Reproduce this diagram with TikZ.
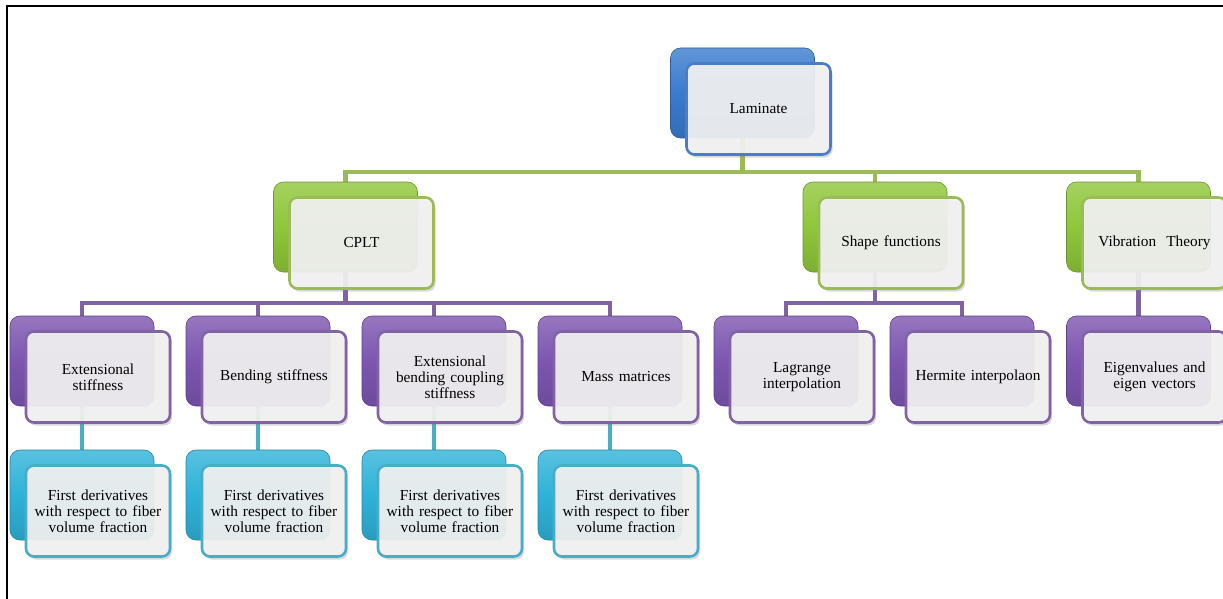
\documentclass[tikz,border=0pt]{standalone}
\usepackage{fontspec}
\setmainfont{Liberation Serif}
\usetikzlibrary{shadows,backgrounds}
\definecolor{cblue}{HTML}{4A7EC4}
\definecolor{cgreen}{HTML}{9BBB59}
\definecolor{cgreenb}{HTML}{8FC63A}
\definecolor{cpurple}{HTML}{8064A2}
\definecolor{cpurpleb}{HTML}{7D55B0}
\definecolor{ccyan}{HTML}{4BACC6}
\definecolor{ccyanb}{HTML}{2FB2D8}
\definecolor{cblueb}{HTML}{3A7BCD}
\definecolor{boxfill}{HTML}{F2F2F2}
\tikzset{
  backbox/.style={rectangle, rounded corners=10pt, minimum width=144pt, minimum height=90pt,
    inner sep=0pt, draw=#1!75!black, line width=0.6pt,
    top color=#1!80!white, bottom color=#1!88!black, middle color=#1},
  frontbox/.style={rectangle, rounded corners=8pt, minimum width=144pt, minimum height=91pt,
    inner sep=2pt, draw=#1, line width=2.6pt, fill=boxfill, fill opacity=0.92, text opacity=1,
    align=center, text width=134pt, font=\fontsize{15.3}{16.2}\selectfont,
    drop shadow={shadow xshift=2pt, shadow yshift=-3pt, opacity=0.3}},
  conn/.style={line width=4.8pt, draw=#1},
}
\newcommand\twobox[7]{%
  \node[backbox=#4] (#1B) at (#2,#3) {};
  \node[frontbox=#5] (#1) at (#2+16,#3+16) {#6#7};
}
\begin{document}
\begin{tikzpicture}[x=1pt,y=-1pt]
\useasboundingbox (0,0) rectangle (1223,599);
\draw[line width=2pt] (1223,6) -- (7,6) -- (7,599);
% level 0
\twobox{lam}{742.5}{93}{cblueb}{cblue}{Laminate}{}
% level 1
\twobox{cplt}{345.5}{227}{cgreenb}{cgreen}{CPLT}{}
\twobox{shape}{875}{227}{cgreenb}{cgreen}{Shape functions}{}
\twobox{vib}{1138.5}{227}{cgreenb}{cgreen}{Vibration~~Theory}{}
% level 2
\twobox{ext}{82}{361}{cpurpleb}{cpurple}{Extensional\\stiffness}{}
\twobox{bend}{258}{361}{cpurpleb}{cpurple}{Bending stiffness}{}
\twobox{coup}{434}{361}{cpurpleb}{cpurple}{Extensional\\bending coupling\\stiffness}{}
\twobox{mass}{610}{361}{cpurpleb}{cpurple}{Mass matrices}{}
\twobox{lag}{786}{361}{cpurpleb}{cpurple}{Lagrange\\interpolation}{}
\twobox{her}{962}{361}{cpurpleb}{cpurple}{Hermite interpolaon}{}
\twobox{eig}{1138.5}{361}{cpurpleb}{cpurple}{Eigenvalues and\\eigen vectors}{}
% level 3
\twobox{fa}{82}{495}{ccyanb}{ccyan}{First derivatives\\with respect to fiber\\volume fraction}{}
\twobox{fb}{258}{495}{ccyanb}{ccyan}{First derivatives\\with respect to fiber\\volume fraction}{}
\twobox{fc}{434}{495}{ccyanb}{ccyan}{First derivatives\\with respect to fiber\\volume fraction}{}
\twobox{fd}{610}{495}{ccyanb}{ccyan}{First derivatives\\with respect to fiber\\volume fraction}{}
\coordinate (gbus) at (0,172);
\coordinate (pbus) at (0,303);
\begin{scope}[on background layer]
\draw[conn=cgreen] (lamB.center) -- (lamB.center |- gbus);
\draw[conn=cgreen] (cpltB.center) |- (vibB.center |- gbus) -- (vibB.center);
\draw[conn=cgreen] (shapeB.center) -- (shapeB.center |- gbus);
\draw[conn=cpurple] (cpltB.center) -- (cpltB.center |- pbus);
\draw[conn=cpurple] (extB.center) |- (massB.center |- pbus) -- (massB.center);
\draw[conn=cpurple] (bendB.center) -- (bendB.center |- pbus);
\draw[conn=cpurple] (coupB.center) -- (coupB.center |- pbus);
\draw[conn=cpurple] (shapeB.center) -- (shapeB.center |- pbus);
\draw[conn=cpurple] (lagB.center) |- (herB.center |- pbus) -- (herB.center);
\draw[conn=cpurple] (vibB.center) -- (eigB.center);
\draw[conn=ccyan] (extB.center) -- (faB.center);
\draw[conn=ccyan] (bendB.center) -- (fbB.center);
\draw[conn=ccyan] (coupB.center) -- (fcB.center);
\draw[conn=ccyan] (massB.center) -- (fdB.center);
\end{scope}
\end{tikzpicture}
\end{document}
